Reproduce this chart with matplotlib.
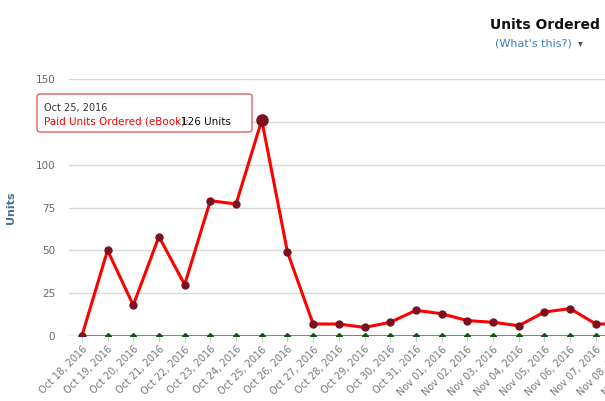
import matplotlib
matplotlib.use("Agg")
import matplotlib.pyplot as plt
from matplotlib.patches import FancyBboxPatch

dates = ["Oct 18, 2016","Oct 19, 2016","Oct 20, 2016","Oct 21, 2016","Oct 22, 2016",
         "Oct 23, 2016","Oct 24, 2016","Oct 25, 2016","Oct 26, 2016","Oct 27, 2016",
         "Oct 28, 2016","Oct 29, 2016","Oct 30, 2016","Oct 31, 2016","Nov 01, 2016",
         "Nov 02, 2016","Nov 03, 2016","Nov 04, 2016","Nov 05, 2016","Nov 06, 2016",
         "Nov 07, 2016","Nov 08, 2016","Nov 09, 2016"]
paid = [0,50,18,58,30,79,77,126,49,7,7,5,8,15,13,9,8,6,14,16,7,7]
free = [0]*22

W, H = 605, 401
fig = plt.figure(figsize=(W/100, H/100), dpi=100)
sp = 25.7
left = 69
x0 = -0.5
x1 = 22.5
ax = fig.add_axes([left/W, 1-336/H, (x1-x0)*sp/W, (336-79)/H])
x = list(range(len(paid)))
ax.plot(x, free, color="#4a8a4a", lw=1.2, marker="D", ms=3, mfc="#0a5a0a", mec="#0a5a0a", zorder=2)
ax.plot(x, paid, color="#ff0000", lw=2.2, marker="o", ms=5, mfc="#7a1020", mec="#7a1020", zorder=3)
ax.plot([7], [paid[7]], marker="o", ms=8, color="#7a1020", zorder=4)
ax.set_xlim(x0, x1)
ax.set_ylim(0, 150)
ax.set_yticks([0,25,50,75,100,125,150])
ax.set_yticklabels(["0","25","50","75","100","","150"])
ax.grid(axis="y", color="#d8d8d8", lw=1)
ax.set_axisbelow(True)
for s in ax.spines.values():
    s.set_visible(False)
ax.tick_params(axis="y", length=0, labelsize=7.5, colors="#666666", pad=10)
ax.set_xticks(range(len(dates)))
ax.set_xticklabels(dates, rotation=45, ha="right", rotation_mode="anchor", fontsize=7, color="#777777")
ax.tick_params(axis="x", length=4, color="#c0d0e0", pad=2)
ax.axhline(0, color="#c0d0e0", lw=1, zorder=1)
ax.set_ylabel("Units", color="#4a6f9a", fontsize=8, fontweight="bold", labelpad=14)

# tooltip
box = FancyBboxPatch((37/W, 1-132/H), (252-37)/W, (132-94)/H, boxstyle="round,pad=0,rounding_size=0.006",
                     transform=fig.transFigure, fc="white", ec="#e06060", lw=1, zorder=10)
fig.patches.append(box)
fig.text(44/W, 1-108/H, "Oct 25, 2016", fontsize=7, color="#333333", va="center", zorder=11)
fig.text(44/W, 1-122/H, "Paid Units Ordered (eBook):", fontsize=7.5, color="#ff0000", va="center", zorder=11)
fig.text(181/W, 1-122/H, "126 Units", fontsize=7.5, color="#111111", va="center", zorder=11)

fig.text(545/W, 1-25/H, "Units Ordered", fontsize=10, fontweight="bold", ha="center", va="center", color="#111111")
fig.text(533/W, 1-43/H, "(What's this?)", fontsize=8, ha="center", va="center", color="#3a7bc8")
fig.text(580/W, 1-43/H, "\u25BE", fontsize=7, ha="center", va="center", color="#555555")
fig.savefig("out.png", dpi=100)
